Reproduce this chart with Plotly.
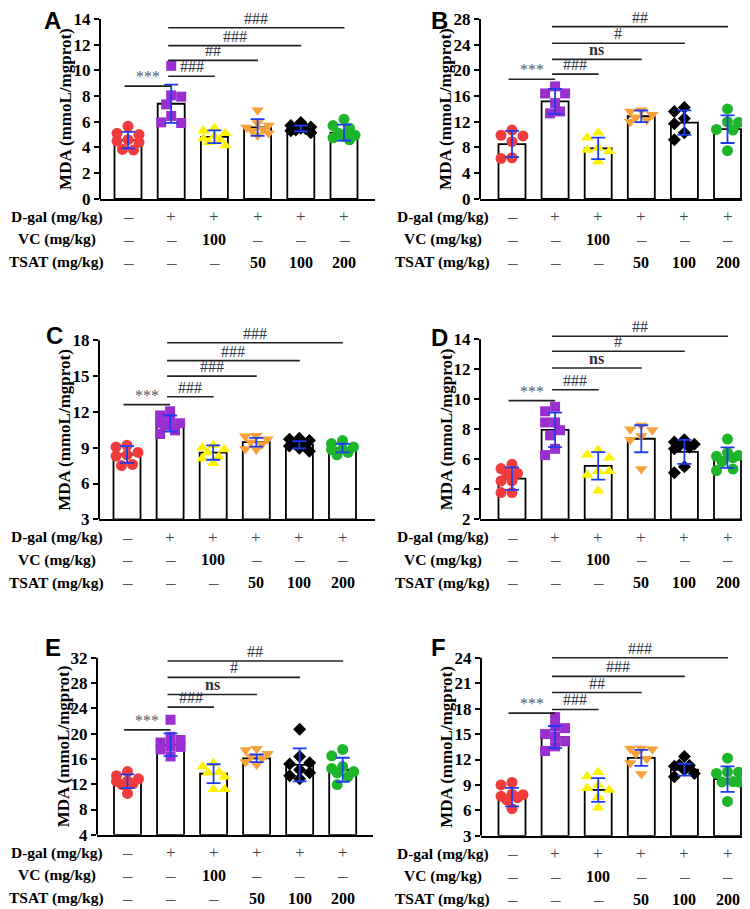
import plotly.graph_objects as go

W, H = 750, 909
SERIF = "Liberation Serif, Times New Roman, serif"
SANS = "Liberation Sans, Arial, sans-serif"

# ---------------- data ----------------
groups = ["Control", "D-gal", "D-gal+VC", "D-gal+TSAT50", "D-gal+TSAT100", "D-gal+TSAT200"]
row_labels = ["D-gal (mg/kg)", "VC (mg/kg)", "TSAT (mg/kg)"]
dgal_row = ["—", "+", "+", "+", "+", "+"]
vc_row = ["—", "—", "100", "—", "—", "—"]
tsat_row = ["—", "—", "—", "50", "100", "200"]
y_title = "MDA (mmoL/mgprot)"
sig_pairs = [(0, 1), (1, 2), (1, 3), (1, 4), (1, 5)]

A_mean = [4.57, 7.40, 4.83, 5.55, 5.47, 5.16]
A_sd = [0.64, 1.49, 0.50, 0.65, 0.22, 0.62]
A_points = [
    [5.65, 5.1, 5.0, 4.6, 4.5, 4.4, 3.85, 3.8],
    [10.35, 8.05, 7.95, 7.35, 6.45, 5.95, 5.9],
    [5.5, 5.3, 5.1, 4.9, 4.7, 4.6, 4.4, 4.15],
    [6.9, 5.9, 5.7, 5.55, 5.4, 5.3, 5.1, 4.95],
    [5.95, 5.7, 5.6, 5.5, 5.45, 5.35, 5.3, 5.15],
    [6.2, 5.7, 5.5, 5.1, 4.95, 4.85, 4.75, 4.6],
]
A_sig = ["***", "###", "##", "###", "###"]
A_sig_y = [8.77, 9.54, 10.77, 11.92, 13.31]

B_mean = [8.53, 15.16, 7.86, 12.85, 11.87, 10.84]
B_sd = [2.05, 1.95, 1.67, 0.90, 1.90, 2.15]
B_points = [
    [10.7, 9.9, 9.8, 8.9, 6.4, 6.3],
    [17.5, 16.4, 16.4, 14.9, 13.6, 13.3],
    [10.3, 9.5, 7.9, 7.6, 7.4, 5.8],
    [13.8, 13.6, 13.1, 12.7, 12.3, 12.0],
    [14.2, 13.6, 12.5, 11.7, 10.3, 9.2],
    [14.0, 12.0, 11.9, 10.8, 10.7, 7.5],
]
B_sig = ["***", "###", "ns", "#", "##"]
B_sig_y = [18.6, 19.4, 21.7, 24.2, 26.8]

C_mean = [8.43, 11.02, 8.59, 9.46, 9.25, 8.97]
C_sd = [0.70, 0.68, 0.60, 0.37, 0.30, 0.36]
C_points = [
    [9.2, 9.05, 8.6, 8.4, 8.3, 7.6, 7.5],
    [12.05, 11.7, 11.25, 11.05, 11.05, 10.85, 10.45, 10.15],
    [9.2, 9.0, 8.85, 8.6, 8.25, 8.1, 7.7],
    [10.0, 9.95, 9.7, 9.45, 9.3, 8.9, 8.85],
    [9.8, 9.7, 9.6, 9.35, 9.2, 9.15, 8.95, 8.7],
    [9.6, 9.35, 9.05, 8.9, 8.85, 8.6, 8.4],
]
C_sig = ["***", "###", "###", "###", "###"]
C_sig_y = [12.61, 13.27, 15.0, 16.3, 17.8]

D_mean = [4.71, 7.96, 5.56, 7.37, 6.49, 6.11]
D_sd = [0.75, 1.15, 0.92, 0.90, 0.80, 0.68]
D_points = [
    [5.67, 5.38, 5.07, 5.07, 4.56, 4.56, 3.78, 3.78],
    [9.5, 9.2, 8.46, 8.46, 7.94, 7.6, 6.7, 6.28],
    [6.6, 6.3, 6.1, 5.2, 5.2, 4.95, 3.9],
    [8.25, 8.0, 7.95, 7.55, 7.3, 5.35],
    [7.3, 7.15, 7.0, 6.9, 6.8, 6.7, 5.5, 5.1],
    [7.35, 6.45, 6.25, 6.2, 6.1, 5.85, 5.35, 5.25],
]
D_sig = ["***", "###", "ns", "#", "##"]
D_sig_y = [9.91, 10.64, 12.09, 13.2, 14.2]

E_mean = [12.47, 18.23, 13.66, 16.10, 15.06, 14.29]
E_sd = [1.10, 1.80, 1.50, 0.60, 2.60, 1.90]
E_points = [
    [14.0, 13.35, 12.85, 12.5, 12.45, 12.1, 11.95, 10.55],
    [22.2, 19.5, 19.0, 18.6, 18.0, 17.9, 17.5, 16.4],
    [15.3, 14.8, 13.9, 13.8, 13.2, 11.2, 11.2],
    [17.6, 17.4, 16.8, 16.4, 16.1, 15.5, 15.1],
    [20.7, 16.4, 15.4, 15.2, 14.3, 13.8, 13.35, 12.85],
    [17.5, 16.5, 14.8, 14.5, 14.0, 13.8, 13.25, 11.95],
]
E_sig = ["***", "###", "ns", "#", "##"]
E_sig_y = [20.6, 24.2, 26.2, 28.9, 31.5]

F_mean = [7.56, 14.65, 8.41, 12.19, 10.80, 9.68]
F_sd = [1.10, 1.30, 1.40, 0.95, 0.70, 1.50]
F_points = [
    [9.3, 9.0, 7.9, 7.85, 7.65, 7.5, 7.25, 6.2],
    [17.0, 15.9, 15.7, 15.0, 14.7, 14.15, 13.55, 13.0],
    [10.5, 10.0, 9.0, 8.6, 8.4, 7.55, 6.3],
    [13.3, 13.3, 13.2, 12.7, 12.1, 11.6, 10.3],
    [12.35, 11.35, 11.3, 11.2, 10.75, 10.35, 9.95],
    [12.15, 10.55, 10.5, 10.35, 9.4, 9.35, 9.35, 7.05],
]
F_sig = ["***", "###", "##", "###", "###"]
F_sig_y = [17.47, 17.9, 19.9, 21.8, 24.0]

# ---------------- styles / layout ----------------
colors = ["#F03C3C", "#9A2FD0", "#FFF200", "#F6A23C", "#000000", "#1FB52B"]
symbols = ["circle", "square", "triangle-up", "triangle-down", "diamond", "circle"]
msizes = [11, 10, 11, 11, 10, 11]
ERR_COLOR = "#1E3CF0"

panels = [
    dict(letter="A", mean=A_mean, sd=A_sd, pts=A_points, sig=A_sig, sig_y=A_sig_y,
         ymin=0, ymax=14, dtick=2, box=(92, 367, 11, 193), c0=120, step=43.2,
         letter_xy=(44, 13), label_cx=49),
    dict(letter="B", mean=B_mean, sd=B_sd, pts=B_points, sig=B_sig, sig_y=B_sig_y,
         ymin=0, ymax=28, dtick=4, box=(472, 747, 11, 193), c0=504, step=43.1,
         letter_xy=(432, 13), label_cx=435),
    dict(letter="C", mean=C_mean, sd=C_sd, pts=C_points, sig=C_sig, sig_y=C_sig_y,
         ymin=3, ymax=18, dtick=3, box=(91, 367, 336, 517), c0=119, step=43.1,
         letter_xy=(46, 331), label_cx=49),
    dict(letter="D", mean=D_mean, sd=D_sd, pts=D_points, sig=D_sig, sig_y=D_sig_y,
         ymin=2, ymax=14, dtick=2, box=(472, 747, 335, 517), c0=504, step=43.1,
         letter_xy=(432, 333), label_cx=435),
    dict(letter="E", mean=E_mean, sd=E_sd, pts=E_points, sig=E_sig, sig_y=E_sig_y,
         ymin=4, ymax=32, dtick=4, box=(89, 365, 657, 836), c0=119.5, step=43.04,
         letter_xy=(45, 647), label_cx=49),
    dict(letter="F", mean=F_mean, sd=F_sd, pts=F_points, sig=F_sig, sig_y=F_sig_y,
         ymin=3, ymax=24, dtick=3, box=(473, 748, 657, 837), c0=504, step=43.1,
         letter_xy=(430, 647), label_cx=435),
]


def swarm(values, ppu, diam, maxoff=11.5):
    """Beeswarm offsets (pixels) kept within the bar width, allowing some overlap."""
    placed = []
    res = [0.0] * len(values)
    step = diam * 0.5
    order = sorted(range(len(values)), key=lambda k: -values[k])
    for idx, k in enumerate(order):
        ypx = values[k] * ppu
        side = 1 if idx % 2 == 0 else -1
        cands = [0, side, -side, 2 * side, -2 * side]
        best, bestd = 0.0, -1.0
        chosen = None
        for m in cands:
            cand = m * step
            if abs(cand) > maxoff:
                continue
            d = min([((cand - px) ** 2 + (ypx - py) ** 2) ** 0.5 for px, py in placed] or [1e9])
            if d >= diam * 0.92:
                chosen = cand
                break
            if d > bestd:
                best, bestd = cand, d
        if chosen is None:
            chosen = best
        placed.append((chosen, ypx))
        res[k] = chosen
    return res


fig = go.Figure()
annotations = []
shapes = []
PAD = 10

for pi, p in enumerate(panels):
    n = pi + 1
    xa = "x" if n == 1 else f"x{n}"
    ya = "y" if n == 1 else f"y{n}"
    left, right, top, bot = p["box"]
    ppu = (bot - top) / (p["ymax"] - p["ymin"])
    ytop_ext = p["ymax"] + PAD / ppu
    xr = [(left - p["c0"]) / p["step"], (right - p["c0"]) / p["step"]]
    xs = list(range(len(groups)))

    # bars
    fig.add_trace(go.Bar(
        x=xs, y=[m - p["ymin"] for m in p["mean"]], base=p["ymin"], width=27 / p["step"],
        marker=dict(color="white", line=dict(color="black", width=1.8)),
        xaxis=xa, yaxis=ya, showlegend=False, hoverinfo="skip"))

    # points
    for g in range(len(groups)):
        vals = p["pts"][g]
        offs = swarm(vals, ppu, msizes[g])
        fig.add_trace(go.Scatter(
            x=[g + o / p["step"] for o in offs], y=vals, mode="markers",
            marker=dict(symbol=symbols[g], size=msizes[g], color=colors[g], line=dict(width=0)),
            xaxis=xa, yaxis=ya, showlegend=False, cliponaxis=False))

    # error bars (mean ± SD)
    fig.add_trace(go.Scatter(
        x=xs, y=p["mean"], mode="markers",
        marker=dict(size=1, color="rgba(0,0,0,0)"),
        error_y=dict(type="data", array=p["sd"], color=ERR_COLOR, thickness=1.8, width=7),
        xaxis=xa, yaxis=ya, showlegend=False, hoverinfo="skip"))

    fig.layout[("xaxis" if n == 1 else f"xaxis{n}")] = dict(
        domain=[left / W, right / W], range=xr, anchor=ya,
        showline=True, linecolor="black", linewidth=2, ticks="", showticklabels=False,
        showgrid=False, zeroline=False, fixedrange=True)
    fig.layout[("yaxis" if n == 1 else f"yaxis{n}")] = dict(
        domain=[1 - bot / H, 1 - (top - PAD) / H], range=[p["ymin"], ytop_ext], anchor=xa,
        showline=False, ticks="outside", ticklen=5, tickwidth=2, tickcolor="black",
        tickmode="array",
        tickvals=list(range(p["ymin"], p["ymax"] + 1, p["dtick"])),
        tickfont=dict(family=SERIF, size=17, color="black", weight="bold"),
        showgrid=False, zeroline=False, fixedrange=True)

    # manual y axis line (stops at top tick)
    shapes.append(dict(type="line", xref="paper", yref=ya, x0=left / W, x1=left / W,
                       y0=p["ymin"], y1=p["ymax"], line=dict(color="black", width=2)))

    # significance brackets
    for (a, b), lab, yv in zip(sig_pairs, p["sig"], p["sig_y"]):
        if a == 0:
            x0, x1 = a - 0.08, b + 0.0
        else:
            x0, x1 = a - 0.07, b + 0.01
        shapes.append(dict(type="line", xref=xa, yref=ya, x0=x0, x1=x1, y0=yv, y1=yv,
                           line=dict(color="#222222", width=1.6)))
        if lab == "ns":
            txt, col = "<b>ns</b>", "#2b2f3a"
        elif lab == "***":
            txt, col = lab, "#555a66"
        else:
            txt, col = lab, "#2e3545"
        annotations.append(dict(x=(x0 + x1) / 2, y=yv, xref=xa, yref=ya, text=txt,
                                showarrow=False, yanchor="bottom", yshift=-1,
                                font=dict(family=SERIF, size=16, color=col)))

    # panel letter
    lx, ly = p["letter_xy"]
    annotations.append(dict(x=lx / W, y=1 - ly / H, xref="paper", yref="paper",
                            text=f"<b>{p['letter']}</b>", showarrow=False,
                            xanchor="center", yanchor="middle",
                            font=dict(family=SANS, size=24, color="black")))

    # y axis title
    annotations.append(dict(x=(left - 34) / W, y=1 - (top + bot) / 2 / H, xref="paper", yref="paper",
                            text=f"<b>{y_title}</b>", showarrow=False, textangle=-90,
                            xanchor="center", yanchor="middle",
                            font=dict(family=SERIF, size=17, color="black")))

    # treatment table below
    rows = [dgal_row, vc_row, tsat_row]
    offsets = [18, 41, 64]
    for r, (lab, row, off) in enumerate(zip(row_labels, rows, offsets)):
        yp = 1 - (bot + off) / H
        annotations.append(dict(x=p["label_cx"] / W, y=yp, xref="paper", yref="paper",
                                text=f"<b>{lab}</b>", showarrow=False,
                                xanchor="center", yanchor="middle",
                                font=dict(family=SERIF, size=15.5, color="black")))
        for g, s in enumerate(row):
            if s == "—":
                txt, fnt = "–", dict(family=SERIF, size=19, color="#555555")
            elif s == "+":
                txt, fnt = "+", dict(family=SERIF, size=17, color="#444444")
            else:
                txt, fnt = f"<b>{s}</b>", dict(family=SERIF, size=16, color="black")
            annotations.append(dict(x=g, y=yp, xref=xa, yref="paper", text=txt,
                                    showarrow=False, xanchor="center", yanchor="middle",
                                    font=fnt))

fig.update_layout(
    width=W, height=H, margin=dict(l=0, r=0, t=0, b=0),
    paper_bgcolor="white", plot_bgcolor="white",
    barmode="overlay", annotations=annotations, shapes=shapes,
    font=dict(family=SERIF, color="black"),
)

fig.write_html("out.html")
